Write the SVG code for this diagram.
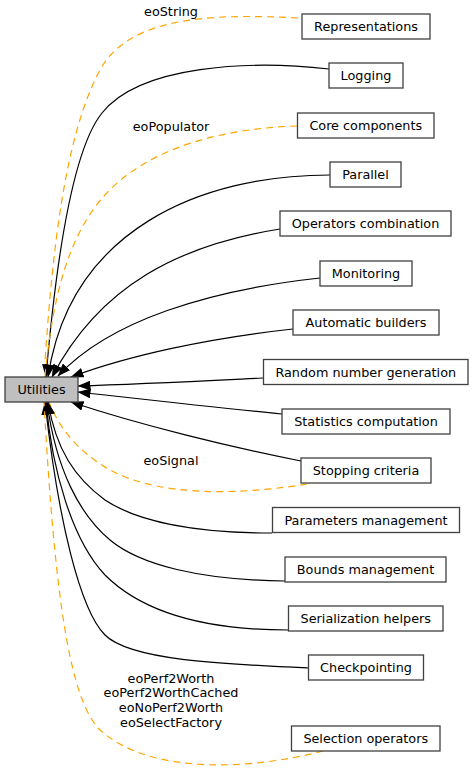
<svg xmlns="http://www.w3.org/2000/svg" width="473" height="772" viewBox="0 0 473 772">
<style>
.node rect{fill:#ffffff;stroke:#404040;stroke-width:1.3}
.node.cur rect{fill:#bfbfbf}
text{font-family:"DejaVu Sans","Liberation Sans",sans-serif;font-size:12.8px;fill:#000}
.node text{text-anchor:middle}
.lbl{text-anchor:middle}
.e{fill:none;stroke:#000;stroke-width:1.2}
.d{fill:none;stroke:#ffa500;stroke-width:1.2;stroke-dasharray:7,5}
</style>
<defs>
<marker id="ah" markerUnits="userSpaceOnUse" markerWidth="13" markerHeight="10" viewBox="0 0 13 10" refX="12.5" refY="5" orient="auto">
<path d="M0,0 L13,5 L0,10 z" fill="#000"/>
</marker>
</defs>
<g id="edges">
<path class="d" d="M298,18 C220,14 130,14 100,70 C65,135 52,250 44,377"/>
<path class="e" marker-end="url(#ah)" d="M329,69 C250,60 140,65 102,113 C72,150 56,260 46,377"/>
<path class="d" d="M297,126 C230,128 150,145 105,195 C68,235 52,300 45,377"/>
<path class="e" marker-end="url(#ah)" d="M330,175 C200,175 70,230 48,377"/>
<path class="e" marker-end="url(#ah)" d="M280,229 C180,245 100,285 52,377"/>
<path class="e" marker-end="url(#ah)" d="M320,278 C210,290 110,320 58,376"/>
<path class="e" marker-end="url(#ah)" d="M293,329 C210,338 130,355 71,377"/>
<path class="e" marker-end="url(#ah)" d="M263,378 C200,381 140,384 78,386"/>
<path class="e" marker-end="url(#ah)" d="M282,414 C220,408 150,400 78,392"/>
<path class="e" marker-end="url(#ah)" d="M301,461 C230,447 140,425 71,402"/>
<path class="d" d="M307,484 C240,495 160,497 110,470 C75,450 58,425 49,402"/>
<path class="e" marker-end="url(#ah)" d="M272,533 C190,533 135,520 105,500 C75,478 56,450 48,402"/>
<path class="e" marker-end="url(#ah)" d="M285,581 C200,580 140,565 110,540 C80,515 56,470 47,402"/>
<path class="e" marker-end="url(#ah)" d="M288,630 C200,630 140,610 105,575 C72,540 52,470 46,402"/>
<path class="e" marker-end="url(#ah)" d="M308,668 C220,664 130,660 105,635 C80,610 58,520 45,402"/>
<path class="d" d="M323,751 C250,770 150,775 100,730 C70,700 55,600 44,402"/>
<text class="lbl" x="171" y="16">eoString</text>
<text class="lbl" x="171" y="131">eoPopulator</text>
<text class="lbl" x="171" y="465">eoSignal</text>
<text class="lbl" x="171" y="682.5">eoPerf2Worth</text>
<text class="lbl" x="171" y="697.4">eoPerf2WorthCached</text>
<text class="lbl" x="171" y="712.3">eoNoPerf2Worth</text>
<text class="lbl" x="171" y="727.2">eoSelectFactory</text>
</g>
<g id="n_representations" class="node"><rect x="302" y="14" width="128" height="25"/><text x="366" y="31">Representations</text></g>
<g id="n_logging" class="node"><rect x="329" y="63" width="74" height="25"/><text x="366" y="80">Logging</text></g>
<g id="n_core" class="node"><rect x="297.5" y="113" width="136.5" height="25"/><text x="365.75" y="130">Core components</text></g>
<g id="n_parallel" class="node"><rect x="330" y="162" width="71" height="25"/><text x="365.5" y="179">Parallel</text></g>
<g id="n_opcomb" class="node"><rect x="280" y="211" width="171" height="25"/><text x="365.5" y="228">Operators combination</text></g>
<g id="n_monitoring" class="node"><rect x="320" y="261" width="92" height="25"/><text x="366" y="278">Monitoring</text></g>
<g id="n_builders" class="node"><rect x="293" y="310" width="146" height="25"/><text x="366" y="327">Automatic builders</text></g>
<g id="n_random" class="node"><rect x="263.5" y="359.5" width="204.5" height="25"/><text x="365.75" y="376.5">Random number generation</text></g>
<g id="n_stats" class="node"><rect x="282" y="409" width="168" height="25"/><text x="366" y="426">Statistics computation</text></g>
<g id="n_stopping" class="node"><rect x="301" y="458" width="130" height="25"/><text x="366" y="475">Stopping criteria</text></g>
<g id="n_utilities" class="node cur"><rect x="5" y="377" width="73" height="25"/><text x="41.5" y="394">Utilities</text></g>
<g id="n_params" class="node"><rect x="272.5" y="507.5" width="187" height="25"/><text x="366" y="524.5">Parameters management</text></g>
<g id="n_bounds" class="node"><rect x="285" y="557" width="161" height="25"/><text x="365.5" y="574">Bounds management</text></g>
<g id="n_serial" class="node"><rect x="288.5" y="606" width="154.5" height="25"/><text x="365.75" y="623">Serialization helpers</text></g>
<g id="n_checkpoint" class="node"><rect x="308.5" y="655" width="115" height="25"/><text x="366" y="672">Checkpointing</text></g>
<g id="n_selection" class="node"><rect x="291.5" y="726" width="148.5" height="25"/><text x="365.75" y="743">Selection operators</text></g>
</svg>
